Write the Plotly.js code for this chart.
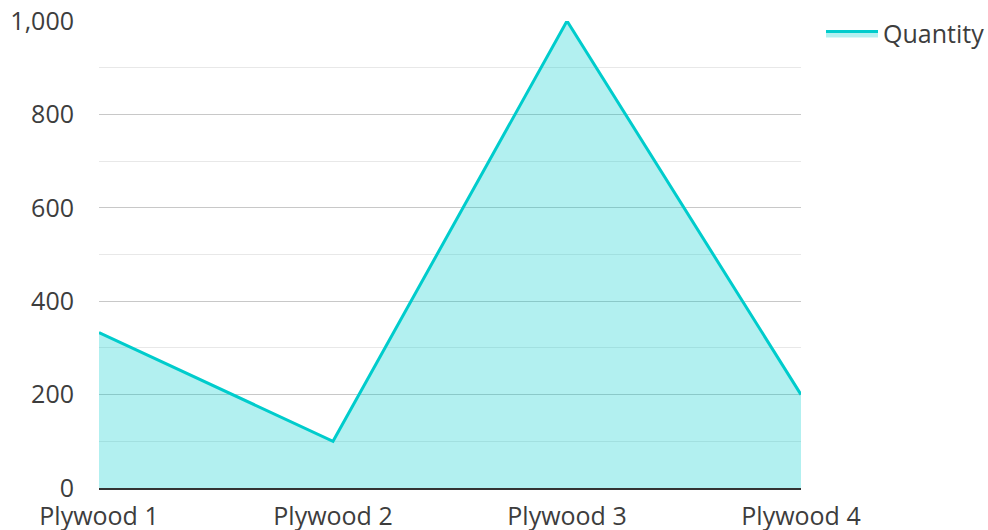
<!DOCTYPE html>
<html>
<head>
<meta charset="utf-8">
<script src="https://cdn.plot.ly/plotly-3.0.1.min.js"></script>
<style>html,body{margin:0;padding:0;background:#fff;}#chart{width:988px;height:530px;}</style>
</head>
<body>
<div id="chart"></div>
<script>
var categories = ["Plywood 1", "Plywood 2", "Plywood 3", "Plywood 4"];
var quantity = [333, 100, 1000, 200];
var seriesName = "Quantity";
var yTickVals = [0, 200, 400, 600, 800, 1000];

var trace = {
  x: categories,
  y: quantity,
  name: seriesName,
  type: "scatter",
  mode: "lines",
  fill: "tozeroy",
  fillcolor: "rgba(0,204,204,0.3)",
  line: {color: "#00cccc", width: 3},
  showlegend: true,
  hoverinfo: "x+y"
};

var layout = {
  width: 988,
  height: 530,
  margin: {l: 99, r: 187, t: 21, b: 42, pad: 0, autoexpand: false},
  paper_bgcolor: "#fff",
  plot_bgcolor: "#fff",
  font: {family: "Open Sans, sans-serif", size: 25, color: "#3d3d3d"},
  showlegend: true,
  legend: {
    x: 1.0285, y: 1.022, xanchor: "left", yanchor: "top",
    font: {size: 25, color: "#3d3d3d"},
    itemwidth: 52,
    bgcolor: "rgba(0,0,0,0)"
  },
  xaxis: {
    type: "category",
    range: [0, 3],
    showgrid: false,
    showline: true,
    linecolor: "#333",
    linewidth: 2,
    ticks: "",
    zeroline: false,
    automargin: false,
    ticklabelstandoff: 5,
    fixedrange: true
  },
  yaxis: {
    range: [0, 1000],
    tickvals: yTickVals,
    tickformat: ",",
    showgrid: true,
    gridcolor: "#c8c8c8",
    gridwidth: 1,
    zeroline: false,
    showline: false,
    ticks: "",
    automargin: false,
    ticklabelstandoff: 24,
    minor: {dtick: 100, showgrid: true, gridcolor: "#e8e8e8", gridwidth: 1},
    fixedrange: true
  }
};

Plotly.newPlot("chart", [trace], layout, {displayModeBar: false, staticPlot: true});
</script>
</body>
</html>
